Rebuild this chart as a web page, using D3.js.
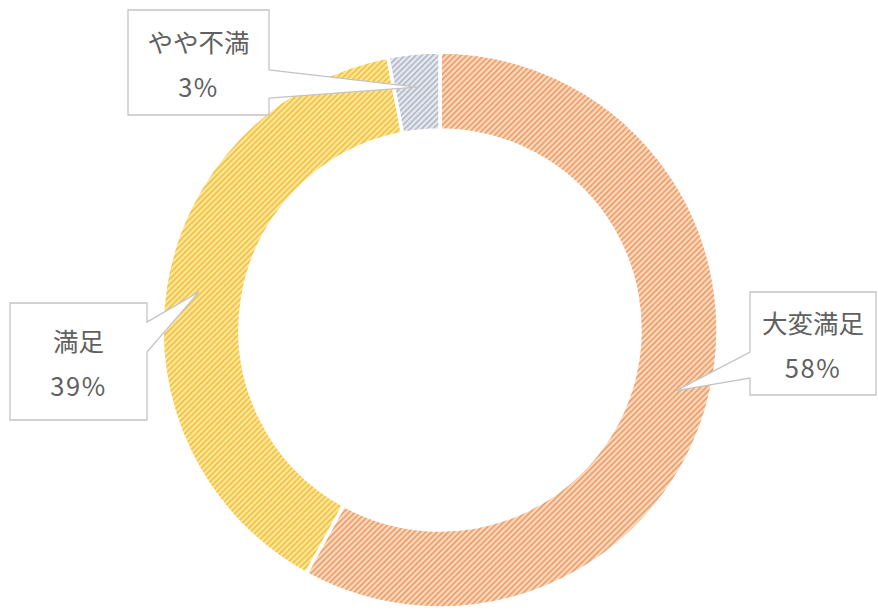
<!DOCTYPE html>
<html><head><meta charset="utf-8">
<script src="https://cdn.jsdelivr.net/npm/d3@7"></script>
<style>
html,body{margin:0;padding:0;background:#fff;}
svg{display:block;}
</style></head>
<body>
<script>
// ---- data ----
const categories = ["大変満足", "満足", "やや不満"];
const values = [58, 39, 3];
const labels = ["58%", "39%", "3%"];

// ---- styles ----
const baseColors = ["#fcd9bd", "#fee79c", "#e6e9ef"];
const stripeColors = ["#e8955e", "#f0bc30", "#a9b2c0"];
// callout boxes: [x, y, w, h, wedge side, wedge y0, wedge y1]
const boxes = [
  {x:750, y:292, w:126, h:103, side:"left", w0:352, w1:378},
  {x:10, y:303, w:137, h:117, side:"right", w0:322, w1:352},
  {x:128, y:10, w:141, h:105, side:"right", w0:70, w1:98}
];

const W = 878, H = 613;
const cx = 440, cy = 330, rOuter = 278, rInner = 200, rTip = 244;

const svg = d3.select("body").append("svg").attr("width", W).attr("height", H);
const defs = svg.append("defs");
const ps = 4;
categories.forEach((c, i) => {
  const p = defs.append("pattern").attr("id", "pat" + i)
    .attr("patternUnits", "userSpaceOnUse").attr("width", ps).attr("height", ps)
    .attr("patternTransform", "rotate(45)");
  p.append("rect").attr("width", ps).attr("height", ps).attr("fill", baseColors[i]);
  p.append("rect").attr("x", 0).attr("width", 1.5).attr("height", ps).attr("fill", stripeColors[i]);
});

const pie = d3.pie().sort(null).value(d => d)(values);
const arc = d3.arc().innerRadius(rInner).outerRadius(rOuter);
const g = svg.append("g").attr("transform", `translate(${cx},${cy})`);
g.selectAll("path").data(pie).join("path")
  .attr("d", arc)
  .attr("fill", (d, i) => `url(#pat${i})`)
  .attr("stroke", "#fff").attr("stroke-width", 3.5);

// callouts
pie.forEach((d, i) => {
  const a = (d.startAngle + d.endAngle) / 2;
  const tx = cx + rTip * Math.sin(a), ty = cy - rTip * Math.cos(a);
  const b = boxes[i];
  const L = b.x, R = b.x + b.w, T = b.y, B = b.y + b.h;
  let path;
  if (b.side === "right") {
    path = `M${L},${T}H${R}V${b.w0}L${tx},${ty}L${R},${b.w1}V${B}H${L}Z`;
  } else {
    path = `M${L},${T}H${R}V${B}H${L}V${b.w1}L${tx},${ty}L${L},${b.w0}Z`;
  }
  svg.append("path").attr("d", path).attr("fill", "#fff")
    .attr("stroke", "#c4c4c4").attr("stroke-width", 1.3);
  const mx = b.x + b.w / 2, my = b.y + b.h / 2;
  const t = svg.append("text").attr("text-anchor", "middle")
    .attr("font-family", "'Noto Sans CJK JP', 'Noto Sans', sans-serif")
    .attr("font-size", 25.5).attr("fill", "#606060");
  t.append("tspan").attr("x", mx).attr("y", my - 22.5).attr("dominant-baseline", "central").text(categories[i]);
  t.append("tspan").attr("x", mx).attr("y", my + 22.5).attr("dominant-baseline", "central")
    .attr("letter-spacing", 1.5).text(labels[i]);
});
</script>
</body></html>
